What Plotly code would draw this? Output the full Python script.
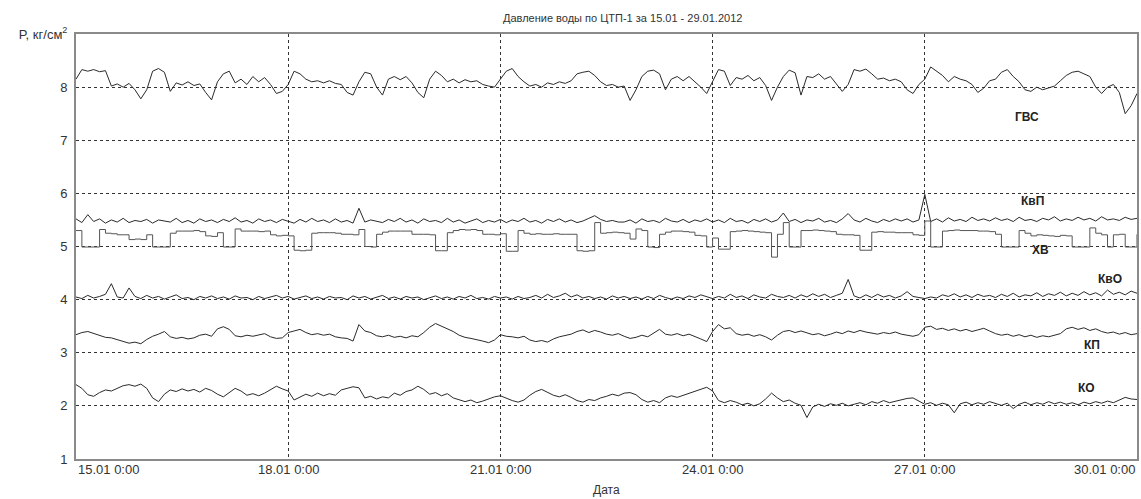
import pandas as pd
import plotly.graph_objects as go

# ---- data (2-hour samples, 15.01.2012 00:00 ... 30.01.2012 00:00) ----
start = "2012-01-15 00:00"
step = "2h"

gvs = [
    8.15, 8.33, 8.30, 8.33, 8.29, 8.31, 8.02, 8.06, 8.00, 8.07, 7.95, 7.78,
    7.95, 8.30, 8.35, 8.28, 7.92, 8.08, 8.04, 8.10, 8.03, 8.06, 7.90, 7.76,
    8.10, 8.25, 8.30, 8.08, 8.15, 8.05, 8.20, 8.10, 8.18, 8.05, 7.88, 7.92,
    8.05, 8.30, 8.25, 8.15, 8.10, 8.12, 8.08, 8.12, 8.07, 8.05, 7.90, 7.85,
    8.10, 8.28, 8.25, 8.00, 7.85, 8.15, 8.20, 8.14, 8.20, 8.08, 7.90, 7.80,
    8.15, 8.30, 8.22, 8.10, 8.15, 8.08, 8.14, 8.10, 8.12, 8.05, 8.02, 8.00,
    8.15, 8.30, 8.35, 8.20, 8.10, 8.02, 8.05, 8.00, 8.08, 8.05, 8.10, 8.07,
    8.12, 8.25, 8.28, 8.30, 8.22, 8.10, 8.03, 8.05, 8.00, 8.02, 7.75, 7.95,
    8.20, 8.30, 8.32, 8.25, 7.95, 8.15, 8.20, 8.12, 8.20, 8.10, 8.00, 7.88,
    8.10, 8.33, 8.30, 8.03, 8.18, 8.15, 8.22, 8.12, 8.18, 8.03, 7.75, 8.00,
    8.20, 8.32, 8.27, 7.85, 8.20, 8.18, 8.25, 8.15, 8.20, 8.05, 7.92, 8.05,
    8.33, 8.30, 8.34, 8.25, 8.15, 8.17, 8.12, 8.15, 8.10, 7.95, 7.88, 8.05,
    8.15, 8.38, 8.30, 8.22, 8.10, 8.20, 8.15, 8.12, 8.05, 7.90, 7.98, 8.12,
    8.15, 8.28, 8.33, 8.20, 8.10, 7.95, 7.92, 8.00, 7.95, 7.98, 8.02, 8.12,
    8.22, 8.28, 8.30, 8.25, 8.20, 8.00, 7.88, 8.00, 8.05, 7.90, 7.50, 7.65,
    7.88,
]

kvp = [
    5.52, 5.45, 5.60, 5.47, 5.52, 5.44, 5.50, 5.46, 5.53, 5.45, 5.49, 5.47,
    5.51, 5.44, 5.50, 5.48, 5.46, 5.53, 5.45, 5.49, 5.44, 5.52, 5.47, 5.50,
    5.45, 5.51, 5.47, 5.54, 5.46, 5.49, 5.44, 5.52, 5.47, 5.50, 5.45, 5.51,
    5.48, 5.44, 5.51, 5.46, 5.53, 5.47, 5.50, 5.45, 5.52, 5.46, 5.49, 5.44,
    5.72, 5.46, 5.50, 5.48, 5.45, 5.51, 5.47, 5.53, 5.46, 5.50, 5.44, 5.52,
    5.47, 5.49, 5.45, 5.53, 5.46, 5.50, 5.44, 5.48, 5.52, 5.45, 5.49, 5.46,
    5.51, 5.45, 5.50, 5.47, 5.53, 5.46, 5.49, 5.44, 5.51, 5.47, 5.52, 5.46,
    5.50, 5.45, 5.48, 5.53, 5.58, 5.51, 5.47, 5.49, 5.46, 5.46, 5.50, 5.44,
    5.52, 5.47, 5.49, 5.45, 5.53, 5.48, 5.46, 5.51, 5.45, 5.50, 5.47, 5.52,
    5.46, 5.50, 5.45, 5.53, 5.47, 5.49, 5.44, 5.51, 5.47, 5.52, 5.46, 5.50,
    5.63, 5.47, 5.51, 5.45, 5.50, 5.48, 5.53, 5.46, 5.49, 5.45, 5.52, 5.62,
    5.50, 5.46, 5.53, 5.48, 5.45, 5.51, 5.47, 5.52, 5.48, 5.52, 5.46, 5.50,
    5.98, 5.47, 5.52, 5.46, 5.54, 5.48, 5.51, 5.47, 5.55, 5.49, 5.52, 5.48,
    5.54, 5.49, 5.52, 5.47, 5.55, 5.49, 5.51, 5.47, 5.53, 5.50, 5.56, 5.48,
    5.52, 5.49, 5.55, 5.50, 5.53, 5.48, 5.56, 5.50, 5.52, 5.49, 5.55, 5.51,
    5.53,
]

hv = [
    5.30, 4.99, 4.99, 4.99, 5.32, 5.25, 5.24, 5.22, 5.22, 5.13, 5.14, 5.13,
    5.22, 4.99, 4.99, 4.99, 5.25, 5.29, 5.29, 5.29, 5.30, 5.28, 5.20, 5.19,
    5.26, 4.99, 4.99, 5.33, 5.29, 5.29, 5.29, 5.28, 5.29, 5.22, 5.20, 5.21,
    5.20, 4.93, 4.92, 4.93, 5.25, 5.26, 5.26, 5.26, 5.25, 5.23, 5.23, 5.22,
    5.32, 5.00, 4.99, 5.23, 5.27, 5.29, 5.29, 5.29, 5.29, 5.23, 5.23, 5.23,
    5.22, 4.92, 4.92, 5.26, 5.30, 5.32, 5.31, 5.32, 5.30, 5.23, 5.23, 5.22,
    5.24, 4.91, 4.91, 5.30, 5.25, 5.23, 5.24, 5.23, 5.23, 5.24, 5.23, 5.23,
    5.23, 4.92, 4.91, 4.92, 5.45, 5.25, 5.26, 5.27, 5.26, 5.25, 5.14, 5.33,
    5.30, 4.99, 4.98, 5.23, 5.27, 5.29, 5.29, 5.28, 5.27, 5.21, 5.20, 4.99,
    5.16, 4.95, 4.95, 5.28, 5.29, 5.30, 5.29, 5.28, 5.27, 5.26, 4.80, 5.23,
    5.45, 4.99, 4.99, 5.30, 5.30, 5.31, 5.30, 5.29, 5.28, 5.23, 5.22, 5.22,
    5.21, 4.93, 4.93, 5.27, 5.28, 5.27, 5.27, 5.26, 5.26, 5.26, 5.22, 5.21,
    5.48, 4.99, 4.99, 5.29, 5.30, 5.31, 5.30, 5.30, 5.30, 5.29, 5.29, 5.28,
    5.23, 4.99, 4.99, 4.99, 5.30, 5.25, 5.20, 5.22, 5.21, 5.20, 5.19, 5.21,
    5.20, 4.99, 4.99, 4.99, 5.35, 5.25, 5.22, 4.99, 5.22, 5.23, 4.99, 4.99,
    5.23,
]

kvo = [
    4.05, 4.02, 4.08, 4.03, 4.06, 4.10, 4.30, 4.05, 4.03, 4.22, 4.06, 4.02,
    4.08, 4.03, 4.06, 4.01, 4.05, 4.09, 4.02, 4.04, 4.00, 4.06, 4.03, 4.07,
    4.02, 4.05, 4.01, 4.07, 4.03, 4.04, 4.00, 4.06, 4.02, 4.05, 4.08, 4.03,
    4.06, 4.01, 4.04, 4.07, 4.02, 4.05, 4.01, 4.06, 4.03, 4.04, 4.00, 4.07,
    4.03, 4.06, 4.01, 4.04, 4.08, 4.02, 4.05, 4.01, 4.06, 4.03, 4.05, 4.00,
    4.04, 4.07, 4.02, 4.05, 4.01, 4.06, 4.03, 4.08, 4.02, 4.04, 4.01, 4.06,
    4.03, 4.05, 4.01, 4.06, 4.02, 4.04, 4.08, 4.03, 4.10, 4.04, 4.07, 4.12,
    4.05, 4.09, 4.03, 4.06, 4.02, 4.05, 4.01, 4.07, 4.03, 4.06, 4.02, 4.05,
    4.01, 4.06, 4.02, 4.08, 4.04, 4.01, 4.05, 4.02, 4.07, 4.04, 4.09, 4.05,
    4.02, 4.06, 4.03, 4.10, 4.04, 4.07, 4.02, 4.09, 4.05, 4.03, 4.10, 4.06,
    4.04, 4.08, 4.03, 4.09, 4.05, 4.11, 4.06, 4.10, 4.04, 4.08, 4.12, 4.38,
    4.07, 4.03, 4.09, 4.04, 4.10, 4.05, 4.08, 4.03, 4.07, 4.15, 4.06, 4.04,
    4.02, 4.05, 4.03, 4.09, 4.06, 4.11, 4.05, 4.09, 4.04, 4.10, 4.06, 4.08,
    4.04, 4.10, 4.06, 4.12, 4.05, 4.09, 4.07, 4.13, 4.06, 4.11, 4.08, 4.14,
    4.07, 4.12, 4.08, 4.15, 4.09, 4.13, 4.07, 4.18, 4.10, 4.14, 4.09, 4.16,
    4.12,
]

kp = [
    3.34, 3.38, 3.40, 3.36, 3.33, 3.29, 3.28, 3.25, 3.22, 3.18, 3.20, 3.17,
    3.25, 3.31, 3.35, 3.40, 3.30, 3.27, 3.29, 3.26, 3.28, 3.33, 3.35, 3.31,
    3.45, 3.49, 3.44, 3.32, 3.30, 3.33, 3.31, 3.34, 3.36, 3.30, 3.27, 3.28,
    3.38, 3.41, 3.44, 3.38, 3.34, 3.36, 3.33, 3.35, 3.30, 3.28, 3.27, 3.22,
    3.53, 3.41, 3.38, 3.32, 3.30, 3.33, 3.29, 3.31, 3.28, 3.32, 3.30, 3.38,
    3.48, 3.55, 3.50, 3.45, 3.40, 3.33, 3.29, 3.27, 3.25, 3.22, 3.19, 3.24,
    3.34, 3.31, 3.30, 3.28, 3.31, 3.24, 3.21, 3.23, 3.20, 3.26, 3.30, 3.32,
    3.35, 3.40, 3.43, 3.38, 3.42, 3.39, 3.35, 3.33, 3.36, 3.31, 3.27, 3.29,
    3.33, 3.30, 3.37, 3.44, 3.35, 3.33, 3.36, 3.32, 3.35, 3.31, 3.26, 3.21,
    3.40, 3.53, 3.45, 3.47, 3.36, 3.33, 3.35, 3.31, 3.34, 3.30, 3.24, 3.33,
    3.40, 3.42, 3.38, 3.41, 3.37, 3.34, 3.36, 3.32, 3.35, 3.39, 3.36, 3.41,
    3.38, 3.42, 3.39, 3.37, 3.35, 3.38, 3.36, 3.39, 3.35, 3.33, 3.31, 3.34,
    3.48, 3.50, 3.44, 3.46, 3.42, 3.45, 3.41, 3.44, 3.40, 3.43, 3.46, 3.41,
    3.36, 3.33, 3.35, 3.31, 3.34, 3.30, 3.33, 3.29, 3.32, 3.30, 3.33, 3.36,
    3.45, 3.48, 3.44, 3.47, 3.42, 3.45, 3.40, 3.37, 3.39, 3.35, 3.38, 3.34,
    3.36,
]

ko = [
    2.40, 2.33, 2.21, 2.18, 2.25, 2.30, 2.28, 2.33, 2.38, 2.40, 2.37, 2.41,
    2.33, 2.15, 2.08, 2.22, 2.30, 2.27, 2.32, 2.28, 2.31, 2.26, 2.33, 2.29,
    2.22, 2.17, 2.25, 2.33, 2.28, 2.20, 2.23, 2.19, 2.24, 2.30, 2.37, 2.32,
    2.28, 2.11, 2.16, 2.22, 2.18, 2.24, 2.19, 2.23, 2.20, 2.30, 2.33, 2.36,
    2.34, 2.15, 2.18, 2.13, 2.17, 2.15, 2.24, 2.20, 2.27, 2.30, 2.37, 2.31,
    2.22, 2.25, 2.19, 2.23, 2.15, 2.12, 2.08, 2.11, 2.06, 2.09, 2.13, 2.17,
    2.19, 2.14, 2.10, 2.07, 2.11, 2.20, 2.27, 2.31, 2.25, 2.20, 2.17, 2.21,
    2.16, 2.10, 2.07, 2.12, 2.10, 2.15, 2.18, 2.22, 2.19, 2.24, 2.25, 2.21,
    2.12, 2.07, 2.10, 2.06, 2.15, 2.19, 2.16, 2.20, 2.23, 2.27, 2.31, 2.35,
    2.28, 2.10, 2.06, 2.10, 2.07, 2.02, 2.05, 2.00, 2.04, 2.13, 2.24, 2.15,
    2.08, 2.11, 2.05, 2.01, 1.78, 1.98, 2.03, 1.99, 2.04, 2.01, 2.05, 2.00,
    2.03, 2.06, 2.02, 2.08, 2.05, 2.10, 2.06, 2.09, 2.11, 2.14, 2.15, 2.09,
    2.03, 2.06, 2.01, 2.05, 2.02, 1.87, 2.04, 2.07, 2.02, 2.06, 2.03, 2.08,
    2.04, 2.01, 2.05, 1.95, 2.03, 2.07, 2.02, 2.06, 2.03, 2.08, 2.04, 2.07,
    2.03, 2.06, 2.02, 2.07, 2.04, 2.08, 2.05, 2.09, 2.06, 2.11, 2.16, 2.13,
    2.12,
]

series_names = ["ГВС", "КвП", "ХВ", "КвО", "КП", "КО"]
series_values = [gvs, kvp, hv, kvo, kp, ko]

x_tick_dates = ["2012-01-15 00:00", "2012-01-18 00:00", "2012-01-21 00:00",
                "2012-01-24 00:00", "2012-01-27 00:00", "2012-01-30 00:00"]
x_tick_labels = ["15.01 0:00", "18.01 0:00", "21.01 0:00",
                 "24.01 0:00", "27.01 0:00", "30.01 0:00"]
y_tick_values = [1, 2, 3, 4, 5, 6, 7, 8, 9]
y_tick_labels = ["1", "2", "3", "4", "5", "6", "7", "8", "P, кг/см<sup>2</sup>"]

title_text = "Давление воды по ЦТП-1 за 15.01 - 29.01.2012"
x_title = "Дата"

# label placement (hours from start, value)
label_pos = {
    "ГВС": (322.7, 7.43),
    "КвП": (324.4, 5.85),
    "ХВ": (327.1, 4.93),
    "КвО": (350.8, 4.38),
    "КП": (344.7, 3.15),
    "КО": (342.7, 2.34),
}

# ---- figure ----
FONT = "Liberation Sans, Arial, sans-serif"
TXT = "#333333"

fig = go.Figure()
for name, vals in zip(series_names, series_values):
    times = pd.date_range(start, periods=len(vals), freq=step)
    fig.add_trace(go.Scatter(
        x=times, y=vals, mode="lines", name=name,
        line=dict(color="#555555" if name == "ХВ" else "#2a2a2a", width=1,
                  shape="hv" if name == "ХВ" else "linear"),
        hoverinfo="skip",
    ))

t0 = pd.Timestamp(start)
for name, (hrs, val) in label_pos.items():
    fig.add_annotation(x=t0 + pd.Timedelta(hours=hrs), y=val, text=f"<b>{name}</b>",
                       showarrow=False, font=dict(family=FONT, size=12, color="#222222"),
                       xanchor="center", yanchor="middle")

n = len(x_tick_dates)
for i, (d, lab) in enumerate(zip(x_tick_dates, x_tick_labels)):
    anchor = "left" if i == 0 else ("right" if i == n - 1 else "center")
    fig.add_annotation(x=d, y=0, xref="x", yref="paper", text=lab, showarrow=False,
                       xanchor=anchor, yanchor="top", yshift=-1,
                       font=dict(family=FONT, size=13, color=TXT))

fig.add_annotation(x=0.5, y=0, xref="paper", yref="paper", text=x_title,
                   showarrow=False, xanchor="center", yanchor="top", yshift=-22,
                   font=dict(family=FONT, size=12, color=TXT))
fig.add_annotation(x=0.515, y=1.0, xref="paper", yref="paper", text=title_text,
                   showarrow=False, xanchor="center", yanchor="bottom", yshift=8,
                   font=dict(family=FONT, size=11, color=TXT))

fig.update_layout(
    width=1141, height=499,
    margin=dict(l=76, r=2, t=34, b=40),
    paper_bgcolor="white", plot_bgcolor="white",
    showlegend=False,
    font=dict(family=FONT, size=13, color=TXT),
)
fig.update_xaxes(
    type="date", range=[x_tick_dates[0], x_tick_dates[-1]],
    tickvals=x_tick_dates[1:-1], showticklabels=False, ticks="",
    showgrid=True, gridcolor="#333333", gridwidth=1, griddash="3px,3px",
    showline=True, linecolor="#8a8a8a", linewidth=2, mirror=True, zeroline=False,
)
fig.update_yaxes(
    range=[1, 9], tickvals=y_tick_values, ticktext=y_tick_labels, ticks="",
    ticklabelstandoff=4,
    showgrid=True, gridcolor="#333333", gridwidth=1, griddash="3px,3px",
    showline=True, linecolor="#8a8a8a", linewidth=2, mirror=True, zeroline=False,
    tickfont=dict(family=FONT, size=13, color=TXT),
)

fig.write_html("out.html", config={"displayModeBar": False},
               post_script="document.body.style.margin='0';document.body.style.overflow='hidden';")
